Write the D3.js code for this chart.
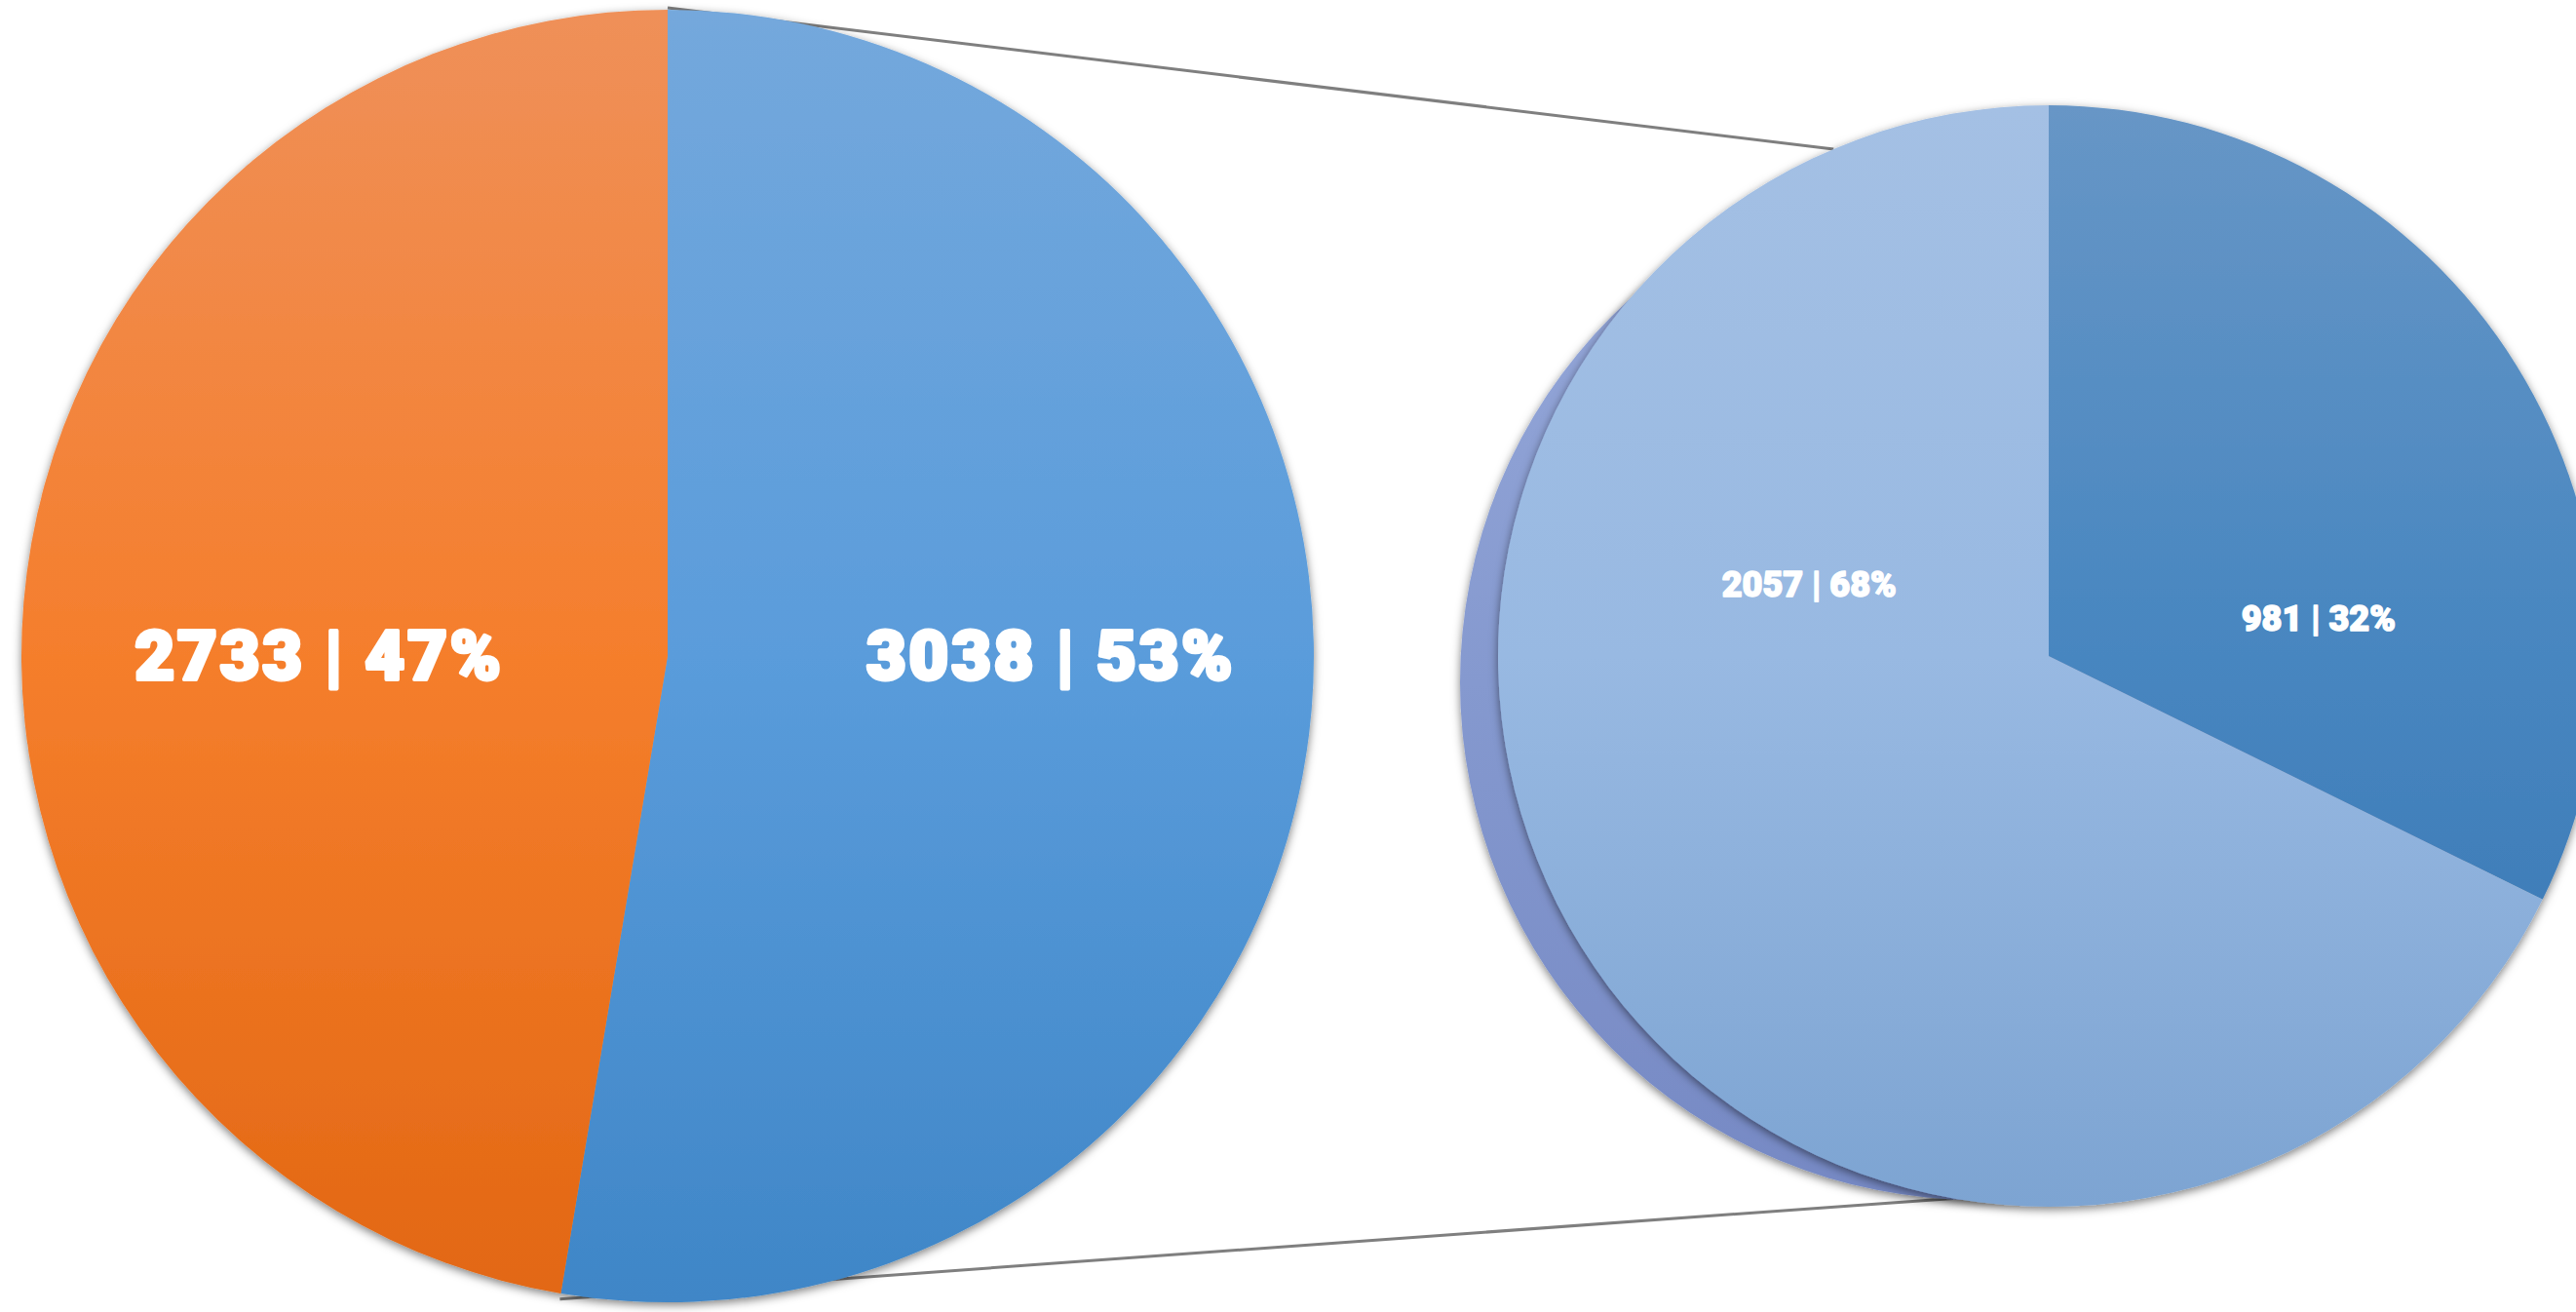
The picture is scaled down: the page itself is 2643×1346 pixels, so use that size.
<!DOCTYPE html>
<html>
<head>
<meta charset="utf-8">
<script src="https://cdn.jsdelivr.net/npm/d3@7"></script>
<style>
  html, body { margin: 0; padding: 0; background: #ffffff; }
  svg { display: block; }
</style>
</head>
<body>
<svg id="chart" width="2643" height="1346"></svg>
<script>
// ---------- data ----------
const primaryCategories = ["Other", "Main"];
const primaryValues = [3038, 2733];
const secondaryCategories = ["Part A", "Part B"];
const secondaryValues = [981, 2057];

// ---------- layout ----------
const W = 2643, H = 1346;
const svg = d3.select("#chart");
const defs = svg.append("defs");

const left = { cx: 685, cy: 673, r: 663 };
const right = { cx: 2102, cy: 673, r: 565 };
const back = { cx: right.cx - 73, cy: right.cy + 27, r: 531 };

// gradients (top -> bottom), expressed in the local space of each pie group
function vGrad(id, y0, y1, stops) {
  const g = defs.append("linearGradient").attr("id", id)
    .attr("gradientUnits", "userSpaceOnUse")
    .attr("x1", 0).attr("x2", 0).attr("y1", y0).attr("y2", y1);
  stops.forEach(([o, c]) => g.append("stop").attr("offset", o).attr("stop-color", c));
}
vGrad("gBlue", -left.r, left.r, [[0, "#74a8dc"], [0.5, "#5a9cdb"], [1, "#3f86c7"]]);
vGrad("gOrange", -left.r, left.r, [[0, "#ef9059"], [0.5, "#f57e2c"], [1, "#e26713"]]);
vGrad("gDark", -right.r, right.r, [[0, "#6796c6"], [0.5, "#4786c0"], [1, "#3874b1"]]);
vGrad("gLight", -right.r, right.r, [[0, "#a4c0e4"], [0.5, "#98b9e2"], [1, "#7da4d2"]]);
vGrad("gBack", -back.r, back.r, [[0, "#97a9da"], [0.5, "#8599cf"], [1, "#7689c4"]]);

const f = defs.append("filter").attr("id", "shadow")
  .attr("x", "-10%").attr("y", "-10%").attr("width", "120%").attr("height", "120%");
f.append("feDropShadow").attr("dx", 0).attr("dy", 3).attr("stdDeviation", 5)
  .attr("flood-color", "#000").attr("flood-opacity", 0.5);

// ---------- pies ----------
const pie = d3.pie().sort(null).startAngle(0).endAngle(2 * Math.PI);
const primaryArcs = pie(primaryValues);
const secondaryArcs = pie(secondaryValues);
const primaryTotal = d3.sum(primaryValues);
const secondaryTotal = d3.sum(secondaryValues);

const pt = (c, r, a) => [c.cx + r * Math.sin(a), c.cy - r * Math.cos(a)];

// connector lines (behind the pies)
const deg = Math.PI / 180;
const otherArc = primaryArcs[0];
const lines = [
  [pt(left, left.r + 2, otherArc.startAngle), pt(right, right.r, -23 * deg)],
  [pt(left, left.r + 6, otherArc.endAngle), pt(right, right.r, 190 * deg)]
];
svg.append("g").selectAll("line").data(lines).join("line")
  .attr("x1", d => d[0][0]).attr("y1", d => d[0][1])
  .attr("x2", d => d[1][0]).attr("y2", d => d[1][1])
  .attr("stroke", "#7f7f7f").attr("stroke-width", 3);

// left pie
const leftArc = d3.arc().innerRadius(0).outerRadius(left.r);
const gl = svg.append("g").attr("transform", `translate(${left.cx},${left.cy})`)
  .attr("filter", "url(#shadow)");
gl.selectAll("path").data(primaryArcs).join("path")
  .attr("d", leftArc)
  .attr("fill", (d, i) => i === 0 ? "url(#gBlue)" : "url(#gOrange)");

// back disc of secondary pie
svg.append("g").attr("transform", `translate(${back.cx},${back.cy})`)
  .append("circle").attr("r", back.r)
  .attr("fill", "url(#gBack)").attr("filter", "url(#shadow)");

// right pie
const rightArc = d3.arc().innerRadius(0).outerRadius(right.r);
const gr = svg.append("g").attr("transform", `translate(${right.cx},${right.cy})`)
  .attr("filter", "url(#shadow)");
gr.selectAll("path").data(secondaryArcs).join("path")
  .attr("d", rightArc)
  .attr("fill", (d, i) => i === 0 ? "url(#gDark)" : "url(#gLight)");

// ---------- labels ----------
const fmt = (v, t) => `${v} | ${Math.round(v / t * 100)}%`;
const leftLabelPos = [[0.593, 0.0], [-0.539, 0.0]];
svg.append("g").selectAll("text").data(primaryArcs).join("text")
  .attr("x", (d, i) => left.cx + leftLabelPos[i][0] * left.r)
  .attr("y", (d, i) => left.cy + leftLabelPos[i][1] * left.r)
  .attr("text-anchor", "middle").attr("dominant-baseline", "central")
  .attr("font-family", "Roboto, Lato, 'DejaVu Sans', sans-serif")
  .attr("font-weight", 900).attr("font-size", 70)
  .attr("letter-spacing", 3)
  .attr("fill", "#ffffff").attr("stroke", "#ffffff").attr("stroke-width", 4)
  .attr("stroke-linejoin", "round")
  .text(d => fmt(d.data, primaryTotal));

const rightLabelPos = [[0.49, -0.068], [-0.435, -0.13]];
svg.append("g").selectAll("text").data(secondaryArcs).join("text")
  .attr("x", (d, i) => right.cx + rightLabelPos[i][0] * right.r)
  .attr("y", (d, i) => right.cy + rightLabelPos[i][1] * right.r)
  .attr("text-anchor", "middle").attr("dominant-baseline", "central")
  .attr("font-family", "Roboto, Lato, 'DejaVu Sans', sans-serif")
  .attr("font-weight", 900).attr("font-size", 36)
  .attr("fill", "#ffffff").attr("stroke", "#ffffff").attr("stroke-width", 1.5)
  .attr("stroke-linejoin", "round")
  .text(d => fmt(d.data, secondaryTotal));
</script>
</body>
</html>
